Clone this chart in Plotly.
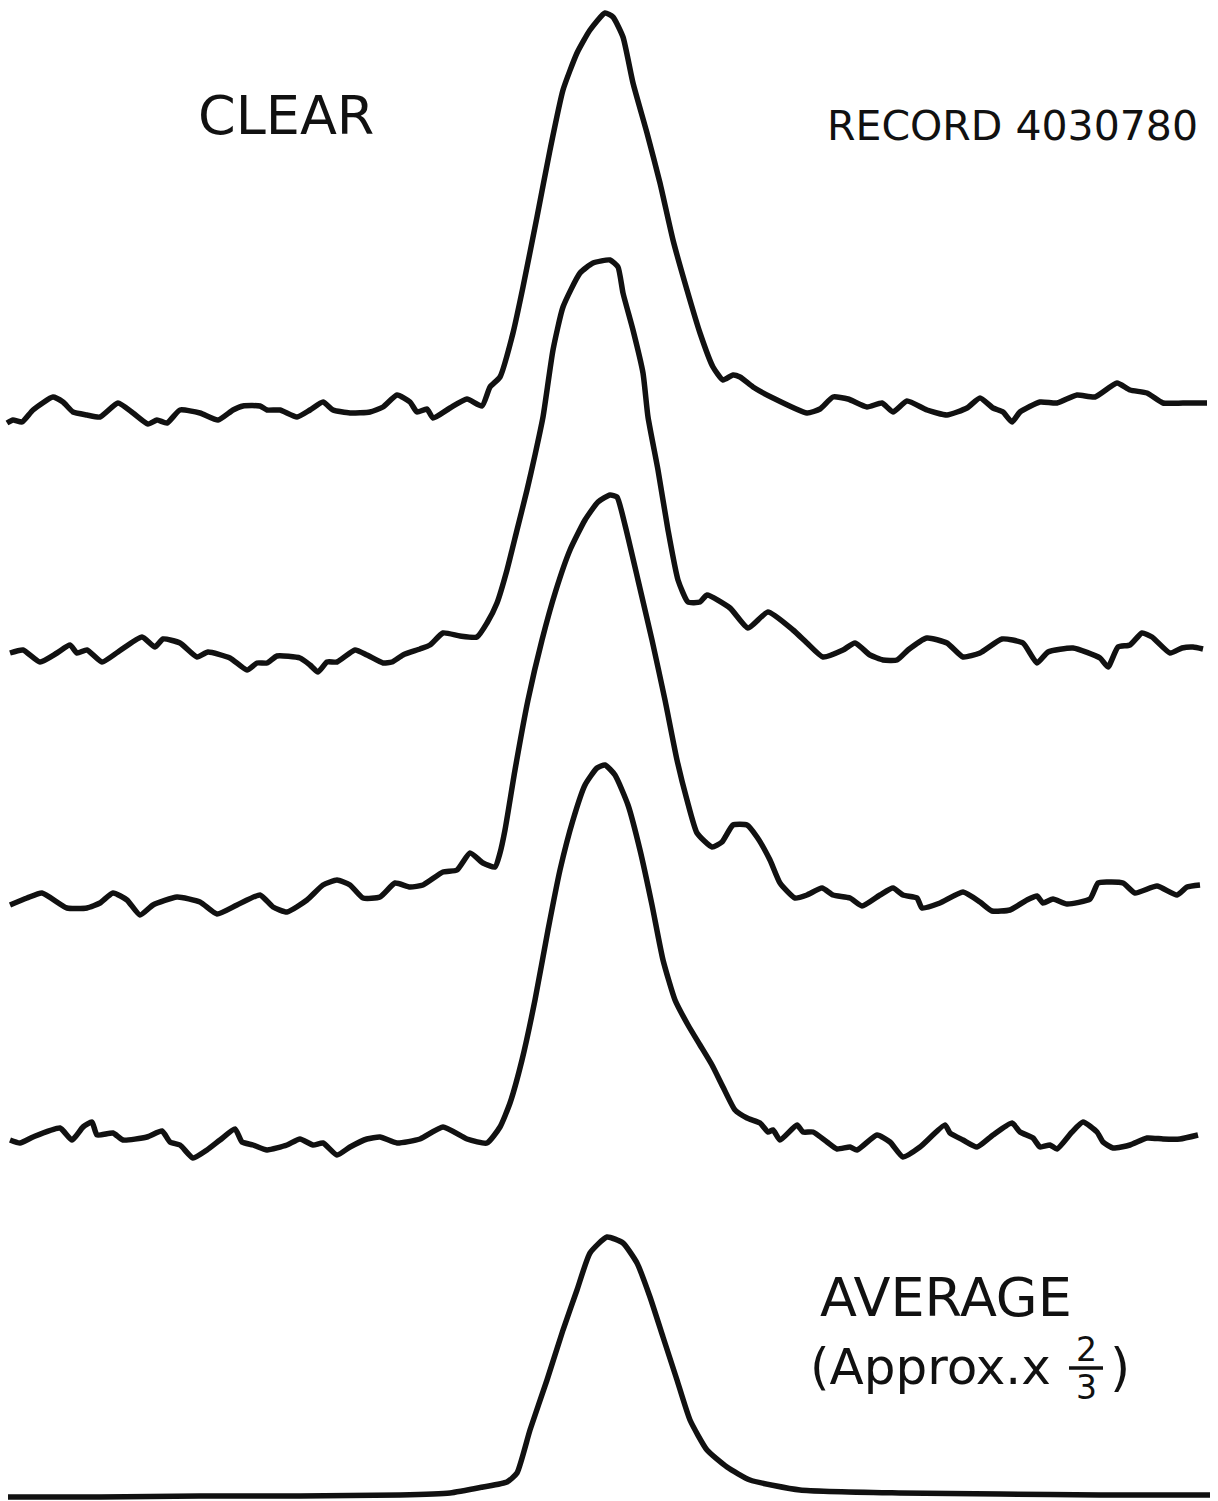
import plotly.graph_objects as go

# ---- data: horizontal sample position and deflection above each trace's baseline ----
x1 = [7,13,22,33,53,63,73,87,100,118,133,148,157,167,180,200,218,233,243,260,
      267,280,297,310,323,333,350,370,383,397,410,417,427,433,450,467,482,490,500,513,
      523,537,550,563,577,590,605,613,623,633,647,660,673,687,700,713,723,733,740,753,
      773,807,820,833,848,867,882,893,907,927,947,967,980,993,1003,1012,1020,1040,1057,1077,
      1095,1117,1130,1147,1163,1183,1207]
y1 = [-13,-10,-12,0,13,8,-2,-5,-7,7,-3,-14,-10,-13,0,-3,-10,0,4,4,
      0,0,-7,0,8,0,-3,-2,3,15,8,-2,1,-8,2,11,4,23,33,77,
      123,193,260,320,357,380,397,393,373,327,277,227,170,120,77,43,30,35,33,23,
      12,-3,1,13,11,3,7,-2,9,0,-5,2,12,2,-2,-12,-2,8,7,15,
      13,27,20,17,7,7,7]

x2 = [10,23,40,57,70,77,87,102,118,142,155,163,180,197,208,230,247,257,267,277,
      300,310,318,327,337,355,367,383,392,403,420,430,443,460,477,487,497,507,517,527,
      535,543,553,563,580,593,610,618,623,633,643,648,658,668,678,688,700,707,730,748,
      768,793,807,823,843,855,870,883,897,908,927,947,963,980,1002,1023,1037,1048,1073,1100,
      1108,1118,1130,1142,1152,1170,1182,1193,1203]
y2 = [2,5,-7,2,10,2,5,-7,3,18,8,16,12,-2,3,-3,-15,-8,-8,-1,
      -3,-10,-17,-7,-7,5,0,-8,-7,0,6,10,22,19,18,32,52,85,125,165,
      200,238,305,348,382,392,395,388,362,325,282,238,185,125,75,53,53,60,47,27,
      43,25,12,-2,5,12,0,-5,-5,5,17,12,-2,2,16,12,-8,3,7,-3,
      -12,8,10,22,18,2,7,8,6]

x3 = [10,27,42,67,87,100,113,127,140,153,177,200,217,237,260,273,287,307,323,337,
      350,363,380,395,410,423,443,457,470,483,495,500,505,515,528,542,556,570,585,598,
      610,617,625,638,652,665,677,687,697,712,722,733,747,757,770,780,795,807,822,833,
      850,862,880,893,903,917,922,940,963,980,992,1010,1027,1037,1043,1053,1067,1090,1098,1107,
      1123,1135,1157,1177,1187,1200]
y3 = [-10,-3,2,-13,-13,-8,2,-5,-20,-10,-2,-7,-19,-10,0,-12,-17,-5,10,15,
      10,-3,-2,12,8,10,23,25,42,32,28,42,65,125,195,255,305,345,375,393,
      400,398,370,315,255,195,135,95,62,48,53,70,70,58,35,12,-3,0,7,0,
      -3,-11,0,7,0,-3,-13,-8,3,-7,-16,-15,-5,-1,-8,-4,-9,-4,12,13,
      12,2,9,0,8,10]

x4 = [10,20,33,60,72,83,92,97,113,123,147,162,170,180,193,207,220,235,242,253,
      267,287,300,313,323,337,350,367,380,397,420,443,467,487,500,510,522,535,548,560,
      573,585,597,605,615,628,640,652,663,675,688,700,712,723,735,747,760,768,773,780,
      797,803,813,827,837,850,857,877,890,903,920,945,950,963,977,993,1012,1020,1033,1040,
      1050,1057,1072,1083,1097,1103,1113,1130,1147,1163,1180,1198]
y4 = [0,-3,3,12,0,13,18,5,7,0,3,9,-2,-5,-18,-10,0,11,-2,-5,
      -10,-5,1,-5,-3,-15,-7,1,3,-3,1,13,1,-3,13,37,80,140,210,270,
      320,355,372,375,365,335,290,235,180,140,115,95,75,53,30,22,17,8,10,0,
      15,8,8,-2,-9,-7,-10,5,-2,-17,-7,15,7,0,-7,5,17,8,2,-7,
      -5,-9,8,18,8,-2,-8,-5,2,1,1,5]

x_avg = [8,100,200,300,400,450,483,507,517,530,547,563,577,590,607,623,637,650,663,677,
         690,707,727,750,800,900,1000,1100,1210]
y_avg = [0,0,1,1,2,4,10,15,24,67,117,167,207,244,260,254,234,200,160,117,
         77,47,30,17,7,4,3,2,2]

labels_top = ["CLEAR", "RECORD 4030780"]
label_avg = ["AVERAGE", "(Approx.x", "2", "3", ")"]

# ---- layout constants ----
W, H = 1218, 1501
baselines = [1091, 846, 606, 361, 4]   # vertical offset of each trace
series = [(x1, y1), (x2, y2), (x3, y3), (x4, y4), (x_avg, y_avg)]
INK = "#111111"

fig = go.Figure()
for (xs, ys), b in zip(series, baselines):
    fig.add_trace(go.Scatter(
        x=xs, y=[v + b for v in ys], mode="lines",
        line=dict(color=INK, width=5.5, shape="spline", smoothing=0.5),
        hoverinfo="skip", showlegend=False))

font = "DejaVu Sans, Liberation Sans, sans-serif"
ann = [
    dict(x=286, y=1386, text=labels_top[0], size=54, xanchor="center"),
    dict(x=1012, y=1375, text=labels_top[1], size=41, xanchor="center"),
    dict(x=946, y=204, text=label_avg[0], size=54, xanchor="center"),
    dict(x=808, y=134, text=label_avg[1], size=50, xanchor="left"),
    dict(x=1086, y=152, text=label_avg[2], size=33, xanchor="center"),
    dict(x=1086, y=114, text=label_avg[3], size=33, xanchor="center"),
    dict(x=1108, y=134, text=label_avg[4], size=52, xanchor="left"),
]
for a in ann:
    fig.add_annotation(x=a["x"], y=a["y"], xref="x", yref="y", text=a["text"],
                       showarrow=False, xanchor=a["xanchor"], yanchor="middle",
                       font=dict(family=font, size=a["size"], color=INK))
fig.add_shape(type="line", xref="x", yref="y", x0=1069, x1=1103, y0=133, y1=133,
              line=dict(color=INK, width=3.5))

fig.update_layout(
    width=W, height=H, margin=dict(l=0, r=0, t=0, b=0),
    paper_bgcolor="white", plot_bgcolor="white",
    xaxis=dict(range=[0, W], visible=False, fixedrange=True),
    yaxis=dict(range=[0, H], visible=False, fixedrange=True),
)
fig.write_html("out.html", config={"displayModeBar": False},
               post_script="document.body.style.margin='0';document.body.style.overflow='hidden';")
